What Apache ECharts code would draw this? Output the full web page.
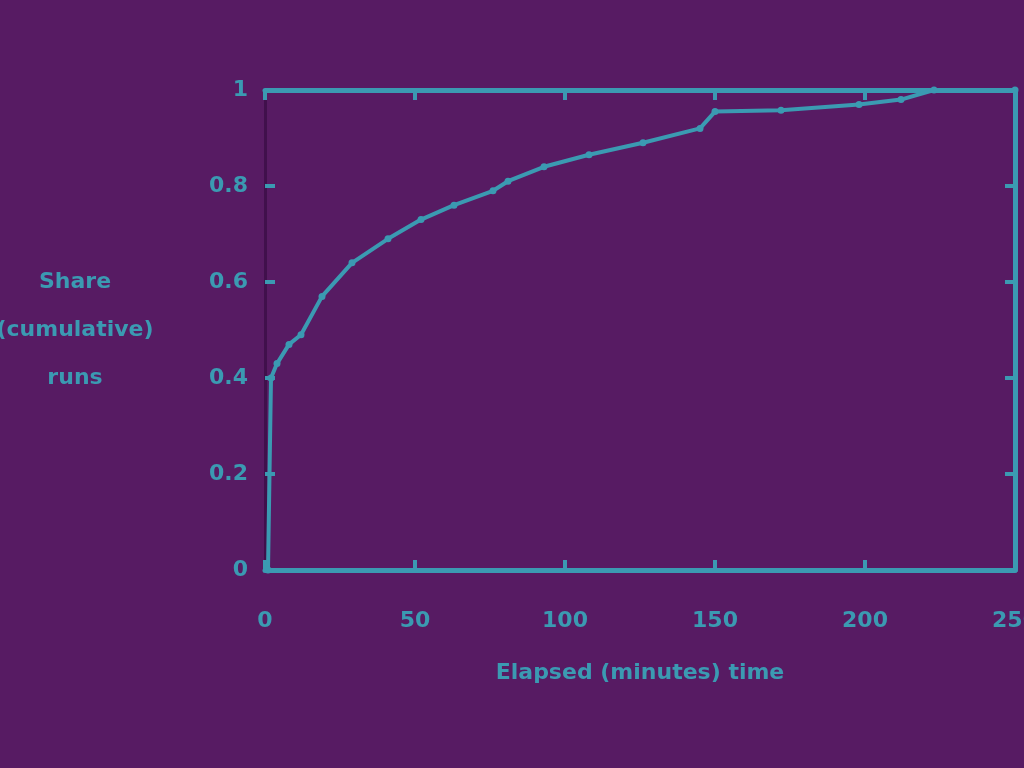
<!DOCTYPE html>
<html>
<head>
    <meta charset="utf-8">
    <title>Cumulative share</title>
    <script src="https://cdn.jsdelivr.net/npm/echarts@6/dist/echarts.min.js"></script>
    <style>
        html, body { margin: 0; padding: 0; background: #571b63; }
        #chart { width: 1024px; height: 768px; }
    </style>
</head>
<body>
    <div id="chart"></div>

    <script>
    // values
    const xValues = [1, 2, 4, 8, 12, 19, 29, 41, 52, 63, 76, 81, 93, 108, 126, 145, 150, 172, 198, 212, 223, 250];
    const yValues = [0, 0.4, 0.43, 0.47, 0.49, 0.57, 0.64, 0.69, 0.73, 0.76, 0.79, 0.81, 0.84, 0.865, 0.89, 0.92, 0.955, 0.958, 0.97, 0.98, 1.0, 1.0];
    const xTicks = [0, 50, 100, 150, 200, 250];
    const yTicks = [0, 0.2, 0.4, 0.6, 0.8, 1];

    const teal = '#3b9ab2';
    const bg = '#571b63';

    const chart = echarts.init(document.getElementById('chart'));

    const points = xValues.map((x, i) => [x, yValues[i]]);

    const frameLine = { show: true, onZero: false, lineStyle: { color: teal, width: 5 } };
    const innerTicks = { show: true, inside: true, length: 10, lineStyle: { color: teal, width: 4 } };
    const font = { color: teal, fontSize: 22, fontWeight: 'bold', fontFamily: 'DejaVu Sans' };

    chart.setOption({
        backgroundColor: bg,
        animation: false,
        grid: { left: 265, right: 9, top: 90, bottom: 198, containLabel: false, outerBoundsMode: 'none' },
        xAxis: [{
            type: 'value',
            min: xTicks[0],
            max: xTicks[xTicks.length - 1],
            interval: 50,
            axisLine: frameLine,
            axisTick: innerTicks,
            splitLine: { show: false },
            axisLabel: Object.assign({ margin: 40 }, font),
            name: 'Elapsed (minutes) time',
            nameLocation: 'middle',
            nameGap: 92,
            nameTextStyle: font
        }, {
            type: 'value',
            position: 'top',
            min: xTicks[0],
            max: xTicks[xTicks.length - 1],
            interval: 50,
            axisLine: frameLine,
            axisTick: innerTicks,
            splitLine: { show: false },
            axisLabel: { show: false }
        }],
        yAxis: [{
            type: 'value',
            min: yTicks[0],
            max: yTicks[yTicks.length - 1],
            interval: 0.2,
            axisLine: { show: true, onZero: false, lineStyle: { color: '#40104c', width: 3 } },
            axisTick: innerTicks,
            splitLine: { show: false },
            axisLabel: Object.assign({ margin: 17 }, font),
            name: 'Share\n(cumulative)\nruns',
            nameLocation: 'middle',
            nameRotate: 0,
            nameGap: 190,
            nameTextStyle: Object.assign({ lineHeight: 48, align: 'center' }, font)
        }, {
            type: 'value',
            position: 'right',
            min: yTicks[0],
            max: yTicks[yTicks.length - 1],
            interval: 0.2,
            axisLine: frameLine,
            axisTick: innerTicks,
            splitLine: { show: false },
            axisLabel: { show: false }
        }],
        series: [{
            type: 'line',
            data: points,
            showSymbol: true,
            symbol: 'circle',
            symbolSize: 7,
            itemStyle: { color: teal },
            lineStyle: { color: teal, width: 4 }
        }]
    });
    </script>
</body>
</html>
